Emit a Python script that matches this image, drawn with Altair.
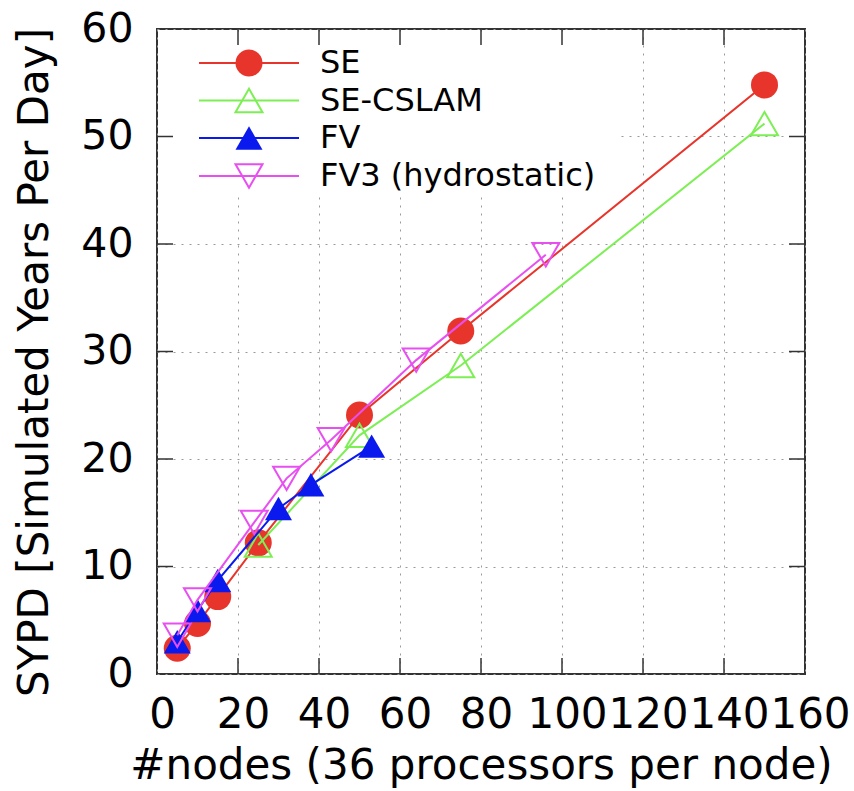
import altair as alt
import pandas as pd

# ---- data ----
se_x = [5, 10, 15, 25, 50, 75, 150]
se_y = [2.4, 4.7, 7.2, 12.2, 24.1, 31.9, 54.8]

cslam_x = [25, 50, 75, 150]
cslam_y = [12.0, 22.2, 28.7, 51.2]

fv_x = [5, 10, 15, 30, 38, 53]
fv_y = [3.0, 5.9, 8.7, 15.4, 17.6, 21.2]

fv3_x = [5, 10, 24, 32, 43, 64, 96]
fv3_y = [3.6, 6.9, 14.1, 18.2, 21.8, 29.2, 39.0]

series_names = ["SE", "SE-CSLAM", "FV", "FV3 (hydrostatic)"]
series_colors = ["#e8352b", "#7def55", "#0a1aee", "#e84ff0"]
series_shapes = ["circle", "triangle-up", "triangle-up", "triangle-down"]
series_filled = [True, False, True, False]

x_ticks = [0, 20, 40, 60, 80, 100, 120, 140, 160]
y_ticks = [0, 10, 20, 30, 40, 50, 60]

x_title = "#nodes (36 processors per node)"
y_title = "SYPD [Simulated Years Per Day]"

W, H = 648, 645
FONT = "DejaVu Sans"

all_x = [se_x, cslam_x, fv_x, fv3_x]
all_y = [se_y, cslam_y, fv_y, fv3_y]

xs = alt.Scale(domain=[0, 160], nice=False, zero=False)
ys = alt.Scale(domain=[0, 60], nice=False, zero=False)

# base with axes + grid
axis_df = pd.DataFrame({"x": [0], "y": [0]})
base_axes = alt.Chart(axis_df).mark_point(opacity=0).encode(
    x=alt.X("x:Q", scale=xs, axis=alt.Axis(
        values=x_ticks, title=x_title, grid=True, gridDash=[2, 6], gridColor="#9a9a9a",
        gridWidth=1, domain=False, ticks=False, tickSize=0,
        labelFont=FONT, labelFontSize=42, labelColor="black", labelPadding=53, labelOffset=5,
        labelBaseline="alphabetic", labelOverlap=False, labelFlush=False, labelBound=False,
        titleFont=FONT, titleFontSize=42, titleFontWeight="normal", titleColor="black",
        titleBaseline="alphabetic", titleY=104, titleX=W / 2)),
    y=alt.Y("y:Q", scale=ys, axis=alt.Axis(
        values=y_ticks, title=y_title, grid=True, gridDash=[2, 6], gridColor="#9a9a9a",
        gridWidth=1, domain=False, ticks=False, tickSize=0,
        labelFont=FONT, labelFontSize=41, labelColor="black", labelPadding=24,
        labelOverlap=False, labelFlush=False, labelBound=False,
        titleFont=FONT, titleFontSize=42, titleFontWeight="normal", titleColor="black",
        titleAngle=270, titleBaseline="alphabetic", titleX=-110, titleY=333)),
)

# opaque legend box
legend_box = alt.Chart(axis_df).mark_rect(color="white").encode(
    x=alt.value(4), x2=alt.value(462), y=alt.value(4), y2=alt.value(166))

layers = [base_axes, legend_box]

for i, name in enumerate(series_names):
    df = pd.DataFrame({"x": all_x[i], "y": all_y[i]})
    c = series_colors[i]
    line = alt.Chart(df).mark_line(color=c, strokeWidth=2).encode(
        x=alt.X("x:Q", scale=xs), y=alt.Y("y:Q", scale=ys))
    pt = alt.Chart(df).mark_point(
        shape=series_shapes[i], size=729, filled=series_filled[i],
        color=c, fill=c if series_filled[i] else "white", fillOpacity=1 if series_filled[i] else 0,
        strokeWidth=2, opacity=1).encode(
        x=alt.X("x:Q", scale=xs), y=alt.Y("y:Q", scale=ys))
    layers += [line, pt]

# inward ticks on all four sides
xt = pd.DataFrame({"t": x_ticks[1:-1]})
yt = pd.DataFrame({"t": y_ticks[1:-1]})
tick_style = dict(color="#333333", strokeWidth=1.5)
layers.append(alt.Chart(xt).mark_rule(**tick_style).encode(
    x=alt.X("t:Q", scale=xs), y=alt.value(H), y2=alt.value(H - 16)))
layers.append(alt.Chart(xt).mark_rule(**tick_style).encode(
    x=alt.X("t:Q", scale=xs), y=alt.value(0), y2=alt.value(16)))
layers.append(alt.Chart(yt).mark_rule(**tick_style).encode(
    y=alt.Y("t:Q", scale=ys), x=alt.value(0), x2=alt.value(16)))
layers.append(alt.Chart(yt).mark_rule(**tick_style).encode(
    y=alt.Y("t:Q", scale=ys), x=alt.value(W), x2=alt.value(W - 16)))

# legend entries
row_y = [34, 71.5, 109, 147]
for i, name in enumerate(series_names):
    c = series_colors[i]
    ldf = pd.DataFrame({"label": [name]})
    layers.append(alt.Chart(ldf).mark_rule(color=c, strokeWidth=2).encode(
        x=alt.value(42), x2=alt.value(142), y=alt.value(row_y[i])))
    layers.append(alt.Chart(ldf).mark_point(
        shape=series_shapes[i], size=729, filled=series_filled[i],
        color=c, fill=c if series_filled[i] else "white", fillOpacity=1 if series_filled[i] else 0,
        strokeWidth=2, opacity=1).encode(x=alt.value(92), y=alt.value(row_y[i])))
    layers.append(alt.Chart(ldf).mark_text(
        font=FONT, fontSize=32, align="left", baseline="middle", color="black").encode(
        x=alt.value(163), y=alt.value(row_y[i]), text="label:N"))

chart = alt.layer(*layers).properties(
    width=W, height=H,
    autosize=alt.AutoSizeParams(type="none"),
    padding={"left": 157, "top": 29, "right": 49, "bottom": 117},
    background="white",
).configure_view(stroke="#333333", strokeWidth=2)

chart.save("out.html", embed_options={"renderer": "svg", "actions": False})
